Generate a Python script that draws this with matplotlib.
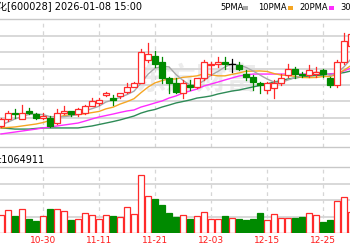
import matplotlib
matplotlib.use("Agg")
import matplotlib.pyplot as plt
from matplotlib.patches import Rectangle
from matplotlib.transforms import blended_transform_factory

# ---------------- data ----------------
dates = ["10-22", "10-23", "10-24", "10-27", "10-28", "10-29", "10-30", "10-31",
         "11-03", "11-04", "11-05", "11-06", "11-07", "11-10", "11-11", "11-12",
         "11-13", "11-14", "11-17", "11-18", "11-19", "11-20", "11-21", "11-24",
         "11-25", "11-26", "11-27", "11-28", "12-01", "12-02", "12-03", "12-04",
         "12-05", "12-08", "12-09", "12-10", "12-11", "12-12", "12-15", "12-16",
         "12-17", "12-18", "12-19", "12-22", "12-23", "12-24", "12-25", "12-26",
         "12-29", "12-30", "12-31"]

opens = [5.55, 5.59, 5.63, 5.59, 5.64, 5.62, 5.60, 5.60, 5.57, 5.63, 5.64, 5.62,
         5.63, 5.67, 5.69, 5.74, 5.72, 5.73, 5.76, 5.79, 5.81, 5.95, 5.98, 5.94,
         5.84, 5.81, 5.75, 5.80, 5.79, 5.84, 5.92, 5.93, 5.94, 5.93, 5.92, 5.87,
         5.85, 5.81, 5.77, 5.78, 5.81, 5.86, 5.90, 5.87, 5.86, 5.87, 5.89, 5.84,
         5.80, 5.94, 6.04]
highs = [5.60, 5.64, 5.65, 5.68, 5.66, 5.63, 5.63, 5.61, 5.65, 5.67, 5.64, 5.66,
         5.68, 5.72, 5.72, 5.76, 5.74, 5.75, 5.81, 5.82, 6.02, 6.06, 6.01, 5.97,
         5.85, 5.84, 5.83, 5.83, 5.84, 5.95, 5.94, 5.97, 5.97, 5.96, 5.94, 5.89,
         5.86, 5.82, 5.82, 5.83, 5.87, 5.93, 5.91, 5.88, 5.92, 5.91, 5.90, 5.85,
         5.95, 6.12, 6.11]
lows = [5.54, 5.58, 5.60, 5.59, 5.62, 5.59, 5.59, 5.54, 5.56, 5.62, 5.61, 5.61,
        5.62, 5.67, 5.68, 5.73, 5.68, 5.72, 5.75, 5.79, 5.81, 5.94, 5.91, 5.81,
        5.75, 5.75, 5.72, 5.77, 5.78, 5.83, 5.86, 5.91, 5.90, 5.88, 5.89, 5.83,
        5.77, 5.75, 5.75, 5.72, 5.80, 5.85, 5.84, 5.85, 5.85, 5.85, 5.85, 5.79,
        5.79, 5.93, 6.02]
closes = [5.59, 5.63, 5.62, 5.63, 5.63, 5.60, 5.61, 5.55, 5.63, 5.64, 5.62, 5.65,
          5.67, 5.70, 5.71, 5.75, 5.71, 5.75, 5.79, 5.81, 6.00, 5.99, 5.93, 5.84,
          5.81, 5.76, 5.81, 5.79, 5.84, 5.94, 5.93, 5.94, 5.93, 5.93, 5.90, 5.85,
          5.82, 5.80, 5.81, 5.81, 5.84, 5.90, 5.87, 5.86, 5.89, 5.88, 5.87, 5.80,
          5.94, 6.07, 6.11]

ma5 = [5.555, 5.573, 5.592, 5.607, 5.620, 5.622, 5.619, 5.606, 5.606, 5.606, 5.611,
       5.620, 5.642, 5.655, 5.670, 5.696, 5.708, 5.724, 5.741, 5.762, 5.811, 5.866,
       5.903, 5.913, 5.911, 5.864, 5.828, 5.800, 5.800, 5.827, 5.860, 5.883, 5.911,
       5.929, 5.922, 5.908, 5.886, 5.861, 5.837, 5.818, 5.815, 5.831, 5.845, 5.856,
       5.871, 5.878, 5.873, 5.858, 5.874, 5.911, 5.959]
ma10 = [5.537, 5.540, 5.543, 5.549, 5.555, 5.561, 5.570, 5.583, 5.598, 5.613, 5.617,
        5.619, 5.624, 5.631, 5.638, 5.654, 5.664, 5.683, 5.698, 5.716, 5.753, 5.787,
        5.813, 5.827, 5.837, 5.837, 5.847, 5.851, 5.856, 5.869, 5.862, 5.856, 5.856,
        5.865, 5.874, 5.884, 5.885, 5.886, 5.883, 5.870, 5.861, 5.858, 5.853, 5.846,
        5.845, 5.846, 5.852, 5.852, 5.865, 5.891, 5.919]
ma20 = [5.500, 5.506, 5.512, 5.518, 5.524, 5.530, 5.537, 5.543, 5.549, 5.555, 5.561,
        5.567, 5.579, 5.592, 5.604, 5.613, 5.622, 5.632, 5.641, 5.647, 5.665, 5.677,
        5.690, 5.702, 5.720, 5.733, 5.751, 5.763, 5.775, 5.794, 5.806, 5.818, 5.831,
        5.843, 5.855, 5.861, 5.867, 5.867, 5.867, 5.867, 5.867, 5.867, 5.867, 5.867,
        5.867, 5.867, 5.867, 5.867, 5.873, 5.886, 5.904]
ma30 = [5.537, 5.534, 5.530, 5.530, 5.530, 5.534, 5.537, 5.537, 5.537, 5.537, 5.537,
        5.537, 5.543, 5.549, 5.558, 5.567, 5.576, 5.586, 5.598, 5.610, 5.628, 5.641,
        5.650, 5.665, 5.677, 5.690, 5.699, 5.708, 5.720, 5.726, 5.733, 5.745, 5.754,
        5.763, 5.769, 5.779, 5.788, 5.797, 5.806, 5.818, 5.827, 5.837, 5.843, 5.849,
        5.855, 5.858, 5.861, 5.867, 5.870, 5.876, 5.886]

# volume in 10k lots (万手)
volume = [88, 113, 85, 118, 72, 58, 85, 122, 121, 108, 63, 72, 100, 92, 71, 88,
          85, 80, 130, 97, 288, 185, 172, 138, 100, 80, 92, 68, 83, 105, 68, 69,
          84, 75, 72, 63, 71, 100, 64, 93, 77, 76, 77, 80, 100, 92, 55, 63, 158,
          180, 106]

tick_labels = ["10-20", "10-30", "11-11", "11-21", "12-03", "12-15", "12-25"]
title_text = "中国石化[600028] 2026-01-08 15:00"
vol_text = ":1064911"
ma_names = ["5PMA", "10PMA", "20PMA", "30PMA"]
price_grid = [5.5, 5.6, 5.7, 5.8, 5.9, 6.0, 6.1]

# ---------------- style ----------------
RED = "#ff2a2a"
GREEN = "#008a00"
MA_COLORS = ["#a8a8a8", "#f5a623", "#ff2cff", "#2e8b57"]
GRID = "#d6d6d6"

W, H = 350, 250
fig = plt.figure(figsize=(W / 100, H / 100), dpi=100)
fig.patch.set_facecolor("white")

def fy(py):
    return 1 - py / H

n = len(dates)
first = -6
xs = [first + k for k in range(n)]
xlim = (-43 / 7, 307 / 7)

ax = fig.add_axes([0, fy(147), 1, (147 - 19) / H])
ax.set_xlim(*xlim)
ax.set_ylim(5.4203, 6.2041)
av = fig.add_axes([0, fy(233), 1, (233 - 167) / H])
av.set_xlim(*xlim)
av.set_ylim(0, 330)

tick_pos = [xs[0] + dates.index(d) if d in dates else -8 for d in tick_labels]

for a in (ax, av):
    a.set_facecolor("none")
    for s in ("left", "right"):
        a.spines[s].set_visible(False)
    for s in ("top", "bottom"):
        a.spines[s].set_color("#c8c8c8")
        a.spines[s].set_linewidth(1.0)
    a.tick_params(length=0, labelleft=False, labelbottom=False)
    a.set_xticks([p for p in tick_pos if p >= xlim[0]])
    a.grid(axis="x", color=GRID, lw=0.9, ls=(0, (3, 3)))
    a.set_axisbelow(True)
av.spines["bottom"].set_visible(False)

ax.set_yticks(price_grid)
ax.grid(axis="y", color=GRID, lw=1.3)
av.set_yticks([82.5, 165, 247.5])
av.grid(axis="y", color=GRID, lw=1.3)

ax.text(0.56, 0.53, "东方财富", transform=ax.transAxes, fontsize=22,
        family=["Noto Sans CJK SC"], fontweight="bold", color="#ececec",
        ha="center", va="center", zorder=0.5)

for vals, c in zip([ma30, ma20, ma10, ma5], MA_COLORS[::-1]):
    ax.plot(xs, vals, color=c, lw=1.0, zorder=2)

bw = 0.72
for x, o, h, l, c, v in zip(xs, opens, highs, lows, closes, volume):
    if c > o:
        col, face = RED, "white"
    elif c < o:
        col, face = GREEN, GREEN
    else:
        col, face = "black", "black"
    ax.plot([x, x], [l, min(o, c)], color=col, lw=0.9, zorder=3)
    ax.plot([x, x], [max(o, c), h], color=col, lw=0.9, zorder=3)
    if c == o:
        ax.plot([x - bw / 2, x + bw / 2], [o, o], color=col, lw=0.9, zorder=3)
    else:
        ax.add_patch(Rectangle((x - bw / 2, min(o, c)), bw, abs(c - o),
                               facecolor=face, edgecolor=col, lw=0.9, zorder=3))
    vcol = GREEN if c < o else RED
    vface = GREEN if c < o else "white"
    av.add_patch(Rectangle((x - bw / 2, 0), bw, v, facecolor=vface,
                           edgecolor=vcol, lw=0.9, zorder=3))

fig.text(142 / W, fy(7.5), title_text, ha="right", va="center", fontsize=7,
         family=["DejaVu Sans", "Noto Sans CJK SC"], color="black")
fig.text(-1 / W, fy(160), vol_text, ha="left", va="center", fontsize=7,
         family=["DejaVu Sans"], color="black")

legend_x = [220, 258, 299, 340]
for name, c, lx in zip(ma_names, MA_COLORS, legend_x):
    fig.text(lx / W, fy(8), name, ha="left", va="center", fontsize=6,
             family=["DejaVu Sans"], color="black")
    rx = lx + (23 if name == "5PMA" else 30)
    fig.patches.append(Rectangle((rx / W, fy(9.5)), 5 / W, 3 / H,
                                 transform=fig.transFigure, facecolor=c,
                                 edgecolor="none"))

tr = blended_transform_factory(av.transData, fig.transFigure)
for p, lab in zip(tick_pos, tick_labels):
    av.text(p, fy(240.5), lab, transform=tr, ha="center", va="center",
            fontsize=6.5, color="#ff1a1a", clip_on=False)

fig.savefig("out.png", dpi=100, facecolor="white")
